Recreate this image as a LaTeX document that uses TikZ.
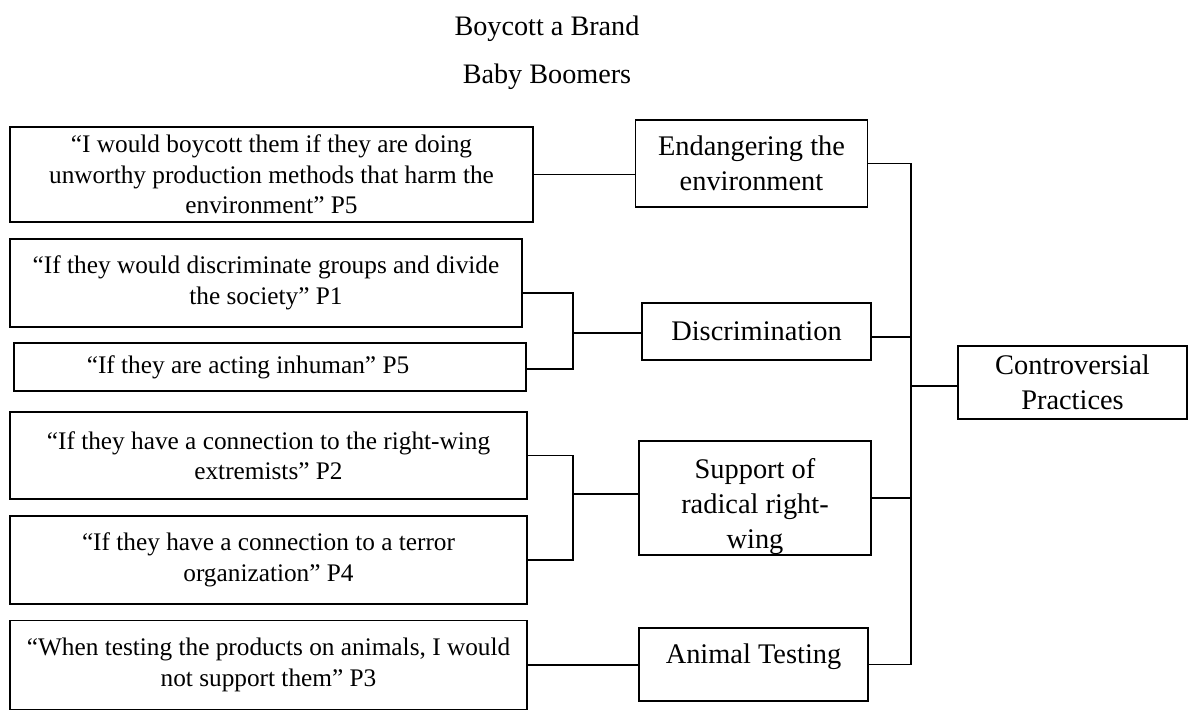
\documentclass[tikz,border=0pt]{standalone}
\usepackage{fontspec}
\setmainfont{Liberation Serif}
\begin{document}
\begin{tikzpicture}[x=1pt,y=-1pt,
  line width=1.5pt,
  every node/.style={inner sep=0pt, outer sep=0pt},
  quotebox/.style={draw, align=center, font=\fontsize{25.3}{30.5}\selectfont},
  catbox/.style={draw, align=center, font=\fontsize{28.4}{34.5}\selectfont},
  cattext/.style={align=center, font=\fontsize{28.4}{35}\selectfont},
  quotetext/.style={align=center, font=\fontsize{25.3}{30.5}\selectfont},
  heading/.style={font=\fontsize{28.2}{34}\selectfont}]
\useasboundingbox (0,0) rectangle (1192,720);

% headings
\node[heading] (title) at (547,29) {Boycott a Brand};
\node[heading] (group) at (547,77) {Baby Boomers};

% quotations
\node[quotebox, minimum width=523pt, minimum height=95pt] (q1) at (271.5,174.5)
  {“I would boycott them if they are doing\\unworthy production methods that harm the\\environment” P5};
\node[quotebox, minimum width=512pt, minimum height=88pt] (q2) at (266,283)
  {“If they would discriminate groups and divide\\the society” P1};
\node[draw, minimum width=512pt, minimum height=48pt] (q3) at (270,367) {};
\node[quotetext] (q3t) at ([xshift=-22pt]q3.center) {“If they are acting inhuman” P5};
\node[quotebox, minimum width=517pt, minimum height=87pt] (q4) at (268.5,455.5)
  {“If they have a connection to the right-wing\\extremists” P2};
\node[quotebox, minimum width=517pt, minimum height=88pt] (q5) at (268.5,560)
  {“If they have a connection to a terror\\organization” P4};
\node[quotebox, minimum width=517pt, minimum height=89pt] (q6) at (268.5,665)
  {“When testing the products on animals, I would\\not support them” P3};

% categories
\node[catbox, minimum width=232pt, minimum height=87pt] (env) at (751.5,163.5)
  {Endangering the\\environment};
\node[catbox, minimum width=229pt, minimum height=57pt] (disc) at (756.5,331.5)
  {Discrimination};
\node[draw, minimum width=232pt, minimum height=114pt] (sup) at (755,498) {};
\node[cattext] (supt) at ([yshift=-9pt]sup.center) {Support of\\radical right-\\wing};
\node[draw, minimum width=229pt, minimum height=73pt] (ani) at (753.5,664.5) {};
\node[cattext] (anit) at ([yshift=7.5pt]ani.center) {Animal Testing};

% overall theme
\node[catbox, minimum width=229pt, minimum height=73pt] (ctrl) at (1072.5,382.5)
  {Controversial\\Practices};

% junction points of the brackets
\coordinate (j1) at (573,333);
\coordinate (j2) at (573,494);
\coordinate (j3) at (911,386);
\coordinate (q2e) at ([yshift=-10pt]q2.east);
\coordinate (q3e) at ([yshift=-2pt]q3.east);
\coordinate (de) at ([yshift=-5.5pt]disc.east);

% quotations to categories
\draw (q1.east) -- (q1.east -| env.west);
\draw (q2e) -| (j1) |- (q3e);
\draw (j1) -- (j1 -| disc.west);
\draw (q4.east) -| (j2) |- (q5.east);
\draw (j2) -- (j2 -| sup.west);
\draw (q6.east) -- (q6.east -| ani.west);

% categories to the overall theme
\draw (env.east) -| (j3);
\draw (ani.east) -| (j3);
\draw (de) -- (de -| j3);
\draw (sup.east) -- (sup.east -| j3);
\draw (j3) -- (j3 -| ctrl.west);
\end{tikzpicture}
\end{document}
